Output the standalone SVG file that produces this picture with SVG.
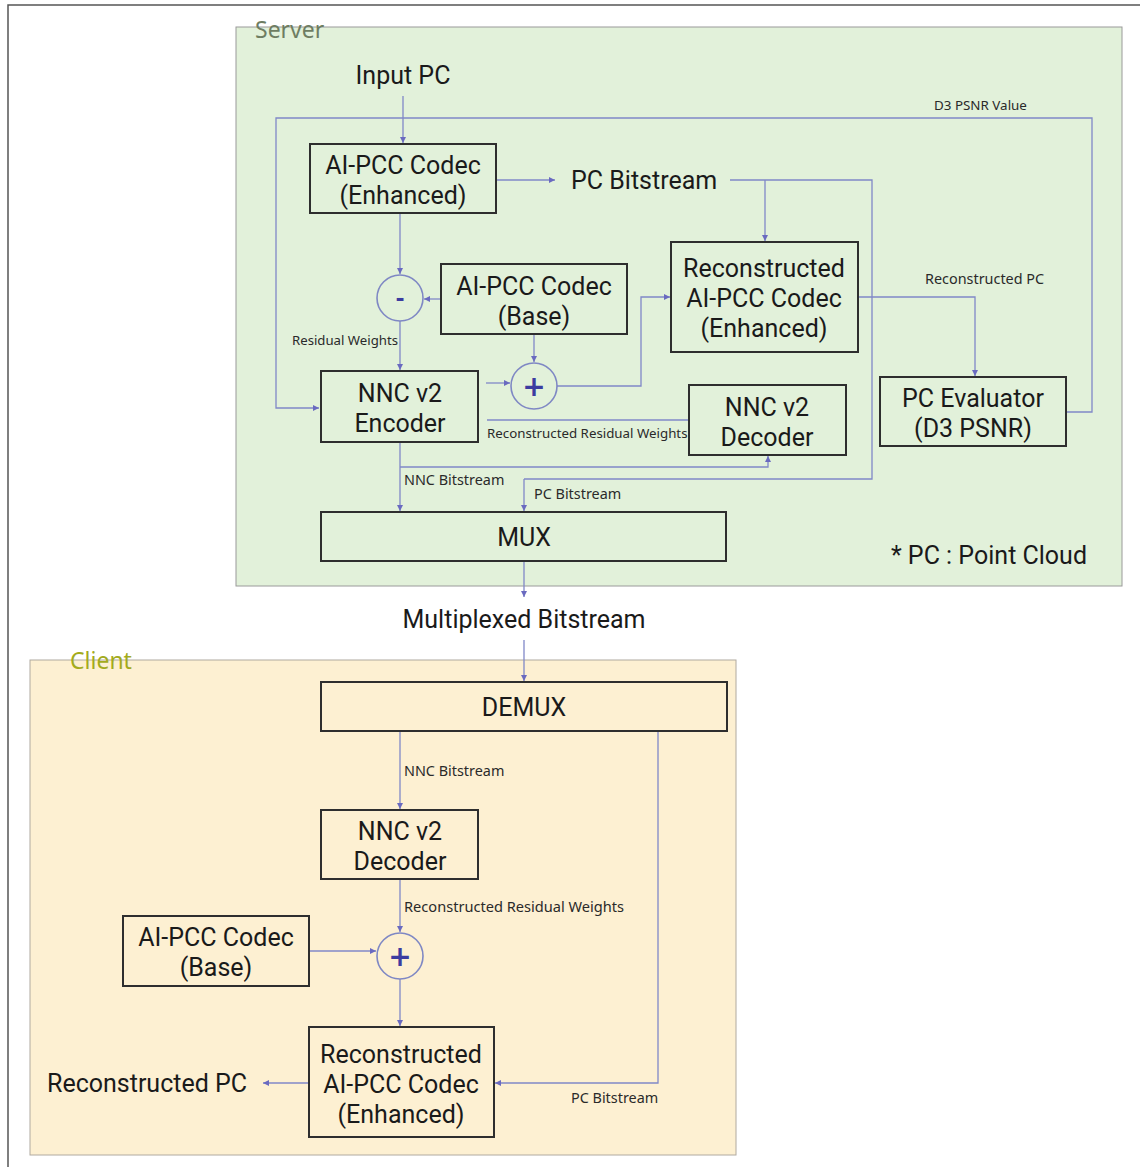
<svg xmlns="http://www.w3.org/2000/svg" width="1140" height="1167" viewBox="0 0 1140 1167">
<style>
.box{fill:none;stroke:#2e2e2e;stroke-width:2}
.t{font-family:Roboto,"Noto Sans",sans-serif;font-size:25px;fill:#1a1a1a;text-anchor:middle}
.s{font-family:"Noto Sans","Open Sans",sans-serif;font-size:14px;fill:#2a2a2a}
.c{fill:none;stroke:#8088c8;stroke-width:1.3;marker-end:url(#ah)}
.n{fill:none;stroke:#8088c8;stroke-width:1.3}
.circ{fill:none;stroke:#7f88c4;stroke-width:1.6}
.op{font-family:"DejaVu Sans",sans-serif;font-weight:bold;fill:#3c3ca0;text-anchor:middle}
</style>
<defs>
<marker id="ah" markerWidth="8" markerHeight="8" refX="6" refY="3" orient="auto" markerUnits="userSpaceOnUse">
<path d="M0,0 L6,3 L0,6 Z" fill="#6a6ac0"/>
</marker>
</defs>
<rect width="1140" height="1167" fill="#ffffff"/>
<path d="M8,1167 V5 H1140" fill="none" stroke="#555" stroke-width="1.5"/>
<g id="server-panel">
<rect x="236" y="27" width="886" height="559" fill="#e2f1da" stroke="#9a9a9a" stroke-width="1"/>
<text x="255" y="38" style="font-family:'Noto Sans',sans-serif;font-size:23px;fill:#6e7d62">Server</text>
</g>
<g id="client-panel">
<rect x="30" y="660" width="706" height="495" fill="#fdf0d2" stroke="#b0aaa0" stroke-width="1"/>
<text x="70" y="669" style="font-family:'Noto Sans',sans-serif;font-size:23px;fill:#a3ab1c">Client</text>
</g>
<g id="connectors">
<line class="c" x1="403" y1="96" x2="403" y2="143"/>
<path class="c" d="M1066,412 H1092 V118 H276 V408 H319"/>
<line class="c" x1="497" y1="180" x2="555" y2="180"/>
<path class="n" d="M730,180 H872 V479 H524"/>
<path class="c" d="M524,479 V511"/>
<path class="c" d="M765,180 V241"/>
<line class="c" x1="400" y1="213" x2="400" y2="274"/>
<line class="c" x1="441" y1="299" x2="424" y2="299"/>
<line class="c" x1="400" y1="321" x2="400" y2="370"/>
<line class="c" x1="534" y1="334" x2="534" y2="362"/>
<line class="c" x1="486" y1="383" x2="510" y2="383"/>
<path class="c" d="M557,386 H641 V297 H670"/>
<line class="n" x1="487" y1="420" x2="689" y2="420"/>
<path class="c" d="M858,297 H975 V376"/>
<line class="c" x1="400" y1="442" x2="400" y2="511"/>
<path class="c" d="M400,467 H768 V456"/>
<line class="c" x1="524" y1="561" x2="524" y2="597"/>
<line class="c" x1="524" y1="640" x2="524" y2="681"/>
<line class="c" x1="400" y1="731" x2="400" y2="809"/>
<path class="c" d="M658,731 V1083 H495"/>
<line class="c" x1="400" y1="879" x2="400" y2="932"/>
<line class="c" x1="309" y1="951" x2="376" y2="951"/>
<line class="c" x1="400" y1="979" x2="400" y2="1026"/>
<line class="c" x1="309" y1="1083" x2="263" y2="1083"/>
</g>
<g id="labels">
<text class="t" x="403" y="84">Input PC</text>
<text class="t" x="571" y="189" style="text-anchor:start">PC Bitstream</text>
<text class="t" x="524" y="628">Multiplexed Bitstream</text>
<text class="t" x="1087" y="564" style="text-anchor:end">* PC : Point Cloud</text>
<text class="t" x="47" y="1092" style="text-anchor:start">Reconstructed PC</text>
<text class="s" x="934" y="110" style="font-size:13.4px">D3 PSNR Value</text>
<text class="s" x="925" y="284" style="font-size:14.4px">Reconstructed PC</text>
<text class="s" x="292" y="345" style="font-size:13.2px">Residual Weights</text>
<text class="s" x="487" y="438" style="font-size:13.3px">Reconstructed Residual Weights</text>
<text class="s" x="404" y="485" style="font-size:14.4px">NNC Bitstream</text>
<text class="s" x="534" y="499" style="font-size:14.4px">PC Bitstream</text>
<text class="s" x="404" y="776" style="font-size:14.4px">NNC Bitstream</text>
<text class="s" x="404" y="912" style="font-size:14.6px">Reconstructed Residual Weights</text>
<text class="s" x="571" y="1103" style="font-size:14.4px">PC Bitstream</text>
</g>
<g id="s-aipcc-enh">
<rect class="box" x="310" y="144" width="186" height="69"/>
<text class="t" x="403" y="174">AI-PCC Codec</text>
<text class="t" x="403" y="204">(Enhanced)</text>
</g>
<g id="s-recon">
<rect class="box" x="671" y="242" width="187" height="110"/>
<text class="t" x="764" y="277">Reconstructed</text>
<text class="t" x="764" y="307">AI-PCC Codec</text>
<text class="t" x="764" y="337">(Enhanced)</text>
</g>
<g id="s-minus">
<circle class="circ" cx="400" cy="298" r="23"/>
<text class="op" x="400" y="306" style="font-size:22px">-</text>
</g>
<g id="s-base">
<rect class="box" x="441" y="264" width="186" height="70"/>
<text class="t" x="534" y="295">AI-PCC Codec</text>
<text class="t" x="534" y="325">(Base)</text>
</g>
<g id="s-encoder">
<rect class="box" x="321" y="371" width="157" height="71"/>
<text class="t" x="400" y="402">NNC v2</text>
<text class="t" x="400" y="432">Encoder</text>
</g>
<g id="s-plus">
<circle class="circ" cx="534" cy="386" r="23"/>
<text class="op" x="534" y="396" style="font-size:28px">+</text>
</g>
<g id="s-decoder">
<rect class="box" x="689" y="385" width="157" height="70"/>
<text class="t" x="767" y="416">NNC v2</text>
<text class="t" x="767" y="446">Decoder</text>
</g>
<g id="s-evaluator">
<rect class="box" x="880" y="377" width="186" height="69"/>
<text class="t" x="973" y="407">PC Evaluator</text>
<text class="t" x="973" y="437">(D3 PSNR)</text>
</g>
<g id="s-mux">
<rect class="box" x="321" y="512" width="405" height="49"/>
<text class="t" x="524" y="546">MUX</text>
</g>
<g id="c-demux">
<rect class="box" x="321" y="682" width="406" height="49"/>
<text class="t" x="524" y="716">DEMUX</text>
</g>
<g id="c-decoder">
<rect class="box" x="321" y="810" width="157" height="69"/>
<text class="t" x="400" y="840">NNC v2</text>
<text class="t" x="400" y="870">Decoder</text>
</g>
<g id="c-base">
<rect class="box" x="123" y="916" width="186" height="70"/>
<text class="t" x="216" y="946">AI-PCC Codec</text>
<text class="t" x="216" y="976">(Base)</text>
</g>
<g id="c-plus">
<circle class="circ" cx="400" cy="956" r="23"/>
<text class="op" x="400" y="966" style="font-size:28px">+</text>
</g>
<g id="c-recon">
<rect class="box" x="309" y="1027" width="185" height="110"/>
<text class="t" x="401" y="1063">Reconstructed</text>
<text class="t" x="401" y="1093">AI-PCC Codec</text>
<text class="t" x="401" y="1123">(Enhanced)</text>
</g>
</svg>
